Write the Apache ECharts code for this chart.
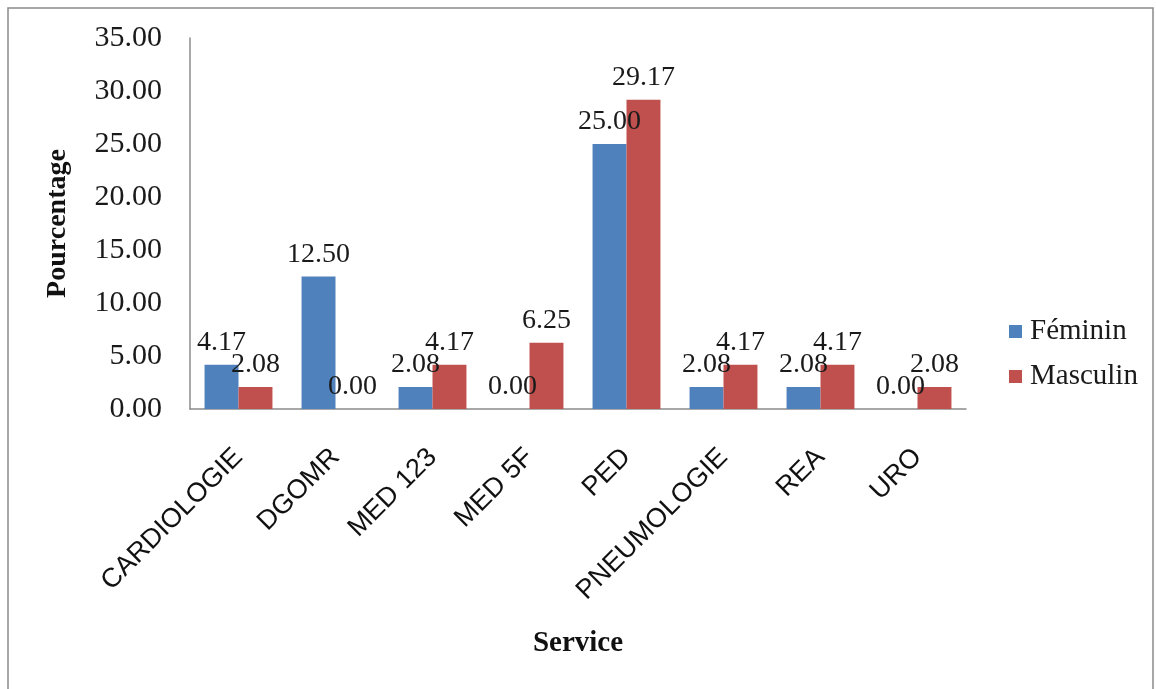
<!DOCTYPE html>
<html>
<head>
<meta charset="utf-8">
<script src="https://cdn.jsdelivr.net/npm/echarts@6/dist/echarts.min.js"></script>
<style>
html,body{margin:0;padding:0;background:#fff;}
#chart{width:1156px;height:689px;}
</style>
</head>
<body>
<div id="chart"></div>
<script>
const categories = ['CARDIOLOGIE','DGOMR','MED 123','MED 5F','PED','PNEUMOLOGIE','REA','URO'];
const feminin = [4.17, 12.50, 2.08, 0.00, 25.00, 2.08, 2.08, 0.00];
const masculin = [2.08, 0.00, 4.17, 6.25, 29.17, 4.17, 4.17, 2.08];
const yTicks = [0, 5, 10, 15, 20, 25, 30, 35];

const serif = '"Liberation Serif", "DejaVu Serif", serif';
const sans = '"Liberation Sans", Arial, sans-serif';

const chart = echarts.init(document.getElementById('chart'));
const valueLabel = {
  show: true,
  position: 'top',
  distance: 8,
  fontFamily: serif,
  fontSize: 28,
  color: '#1a1a1a',
  formatter: p => p.value.toFixed(2)
};
chart.setOption({
  backgroundColor: '#fff',
  animation: false,
  graphic: [{
    type: 'rect',
    shape: {x: 8, y: 8, width: 1145, height: 700},
    style: {fill: 'none', stroke: '#8a8a8a', lineWidth: 1.5},
    silent: true
  }],
  legend: {
    orient: 'vertical',
    left: 1004,
    top: 312,
    itemWidth: 13,
    itemHeight: 13,
    itemGap: 16,
    icon: 'rect',
    textStyle: {fontFamily: serif, fontSize: 29, color: '#1a1a1a', padding: [0,0,0,3]},
    data: ['Féminin', 'Masculin']
  },
  grid: {left: 190, right: 190, top: 38, bottom: 280, containLabel: false},
  xAxis: {
    type: 'category',
    data: categories,
    axisLine: {lineStyle: {color: '#8c8c8c', width: 1.5}},
    axisTick: {show: false},
    axisLabel: {
      rotate: 45,
      margin: 44,
      interval: 0,
      fontFamily: sans,
      fontSize: 27,
      color: '#111'
    },
    name: 'Service',
    nameLocation: 'middle',
    nameGap: 220,
    nameTextStyle: {fontFamily: serif, fontWeight: 'bold', fontSize: 29, color: '#111'}
  },
  yAxis: {
    type: 'value',
    min: 0,
    max: 35,
    interval: 5,
    axisLine: {show: true, lineStyle: {color: '#8c8c8c', width: 1.5}},
    axisTick: {show: false},
    splitLine: {show: false},
    axisLabel: {
      margin: 28,
      fontFamily: serif,
      fontSize: 30,
      color: '#1a1a1a',
      formatter: v => v.toFixed(2)
    },
    name: 'Pourcentage',
    nameLocation: 'middle',
    nameGap: 118,
    nameTextStyle: {fontFamily: serif, fontWeight: 'bold', fontSize: 28, color: '#111'}
  },
  series: [
    {
      name: 'Féminin',
      type: 'bar',
      data: feminin,
      barGap: '0%',
      barCategoryGap: '30%',
      itemStyle: {color: '#4F81BD'},
      label: valueLabel
    },
    {
      name: 'Masculin',
      type: 'bar',
      data: masculin,
      itemStyle: {color: '#C0504D'},
      label: valueLabel
    }
  ]
});
</script>
</body>
</html>
